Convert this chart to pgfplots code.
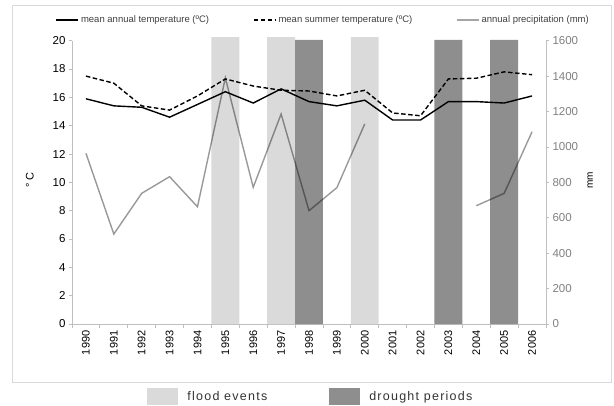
\documentclass[border=0pt]{standalone}
\usepackage{pgfplots}
\pgfplotsset{compat=1.18}
\usepackage{fontspec}
\setmainfont{Liberation Sans}
\newfontfamily\legfont[LetterSpace=10]{Liberation Sans}
\definecolor{flood}{HTML}{DADADA}
\definecolor{drought}{HTML}{8E8E8E}
\definecolor{axgray}{HTML}{BFBFBF}
\definecolor{txtgray}{HTML}{808080}
\begin{document}
\begin{tikzpicture}[x=1pt,y=1pt]
\path[use as bounding box] (0,0) rectangle (614,405);
\draw[black!15] (12,23) rectangle (611,400);
\begin{axis}[
  at={(72pt,81pt)}, anchor=south west,
  width=474pt, height=283.3pt, scale only axis,
  xmin=-0.5, xmax=16.5, ymin=0, ymax=20,
  clip=false,
  axis x line*=bottom, axis y line*=left,
  axis line style={axgray, line width=0.8pt},
  every tick/.style={axgray, line width=0.8pt},
  tick align=outside,
  xtick={0,...,16},
  xticklabels={1990,1991,1992,1993,1994,1995,1996,1997,1998,1999,2000,2001,2002,2003,2004,2005,2006},
  x tick label style={rotate=90, anchor=east, font=\fontsize{11}{12}\selectfont},
  major x tick style={draw=none},
  minor xtick={-0.5,0.5,...,16.5},
  minor tick length=4pt,
  major tick length=3pt,
  ytick={0,2,...,20},
  y tick label style={font=\fontsize{11.5}{12}\selectfont},
  /pgf/number format/assume math mode=true,
  ylabel={° C},
  ylabel style={at={(axis description cs:-0.089,0.508)}, anchor=center, rotate=0, font=\fontsize{11}{12}\selectfont},
  legend columns=3,
  legend style={at={(axis description cs:0.53,1.073)}, anchor=center, draw=none, fill=none,
    font=\fontsize{9.5}{10}\selectfont, text=black!75,
    /tikz/every even column/.append style={column sep=42pt}},
  legend image code/.code={\draw[#1] (0pt,0pt) -- (22pt,0pt);},
]
\addplot[ybar, bar width=1, fill=flood, draw=none, forget plot] coordinates {(5,20.25) (7,20.25) (10,20.25)};
\addplot[ybar, bar width=1, fill=drought, draw=none, forget plot] coordinates {(8,20.05) (13,20.05) (15,20.05)};
\addplot[black, line width=1.4pt] coordinates {
(0,15.9) (1,15.4) (2,15.3) (3,14.6) (4,15.5) (5,16.4) (6,15.6) (7,16.6) (8,15.7)
(9,15.4) (10,15.8) (11,14.4) (12,14.4) (13,15.7) (14,15.7) (15,15.6) (16,16.1)};
\addlegendentry{mean annual temperature (ºC)}
\addplot[black, line width=1.4pt, dash pattern=on 4.5pt off 2.5pt] coordinates {
(0,17.5) (1,17.0) (2,15.4) (3,15.1) (4,16.1) (5,17.3) (6,16.8) (7,16.5) (8,16.45)
(9,16.1) (10,16.5) (11,14.9) (12,14.7) (13,17.3) (14,17.35) (15,17.8) (16,17.6)};
\addlegendentry{mean summer temperature (ºC)}
\addlegendimage{black, opacity=0.35, line width=1.2pt}
\addlegendentry{annual precipitation (mm)}
\end{axis}
\begin{axis}[
  at={(72pt,81pt)}, anchor=south west,
  width=474pt, height=283.3pt, scale only axis,
  xmin=-0.5, xmax=16.5, ymin=0, ymax=1600,
  axis x line=none, axis y line*=right,
  axis line style={axgray, line width=0.8pt},
  every tick/.style={axgray, line width=0.8pt},
  tick align=outside, major tick length=3pt,
  ytick={0,200,...,1600},
  y tick label style={font=\fontsize{11.5}{12}\selectfont, text=txtgray},
  /pgf/number format/assume math mode=true,
  /pgf/number format/1000 sep={},
  unbounded coords=jump,
  ylabel={mm},
  ylabel style={at={(axis description cs:1.093,0.508)}, anchor=center, font=\fontsize{10}{12}\selectfont},
  legend columns=2,
  legend style={at={(axis description cs:0.504,-0.256)}, anchor=center, draw=none, fill=none,
    font=\legfont\fontsize{12.5}{13}\selectfont, text=black!80,
    /tikz/every even column/.append style={column sep=60pt}},
]
\addplot[black, opacity=0.4, line width=1.4pt, forget plot] coordinates {
(0,964) (1,508) (2,738) (3,832) (4,662) (5,1390) (6,772) (7,1186) (8,640)
(9,770) (10,1130) (11,nan) (12,nan) (13,nan) (14,668) (15,738) (16,1086)};
\addlegendimage{legend image code/.code={\fill[flood, draw=none] (0pt,-8.5pt) rectangle (31pt,8.5pt); \path[draw=none, fill=none] (0pt,0pt) -- (38pt,0pt);}}
\addlegendentry{flood events}
\addlegendimage{legend image code/.code={\fill[drought, draw=none] (0pt,-8.5pt) rectangle (31pt,8.5pt); \path[draw=none, fill=none] (0pt,0pt) -- (38pt,0pt);}}
\addlegendentry{drought periods}
\end{axis}
\end{tikzpicture}
\end{document}
